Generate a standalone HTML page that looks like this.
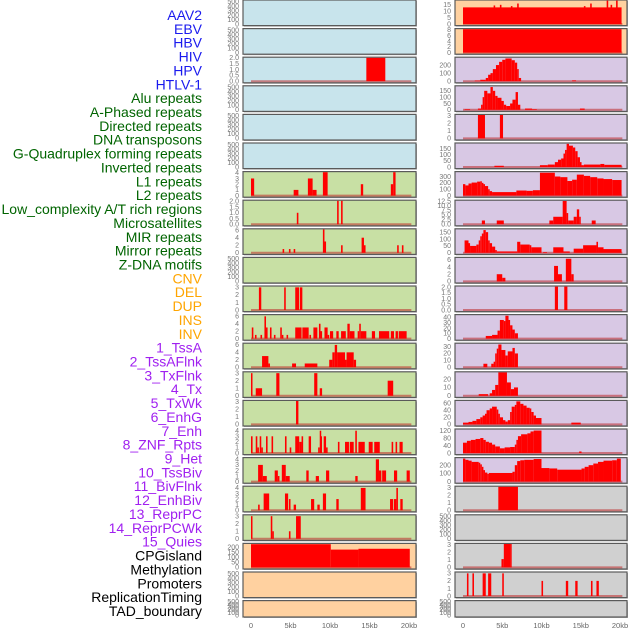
<!DOCTYPE html>
<html><head><meta charset="utf-8"><style>
html,body{margin:0;padding:0;background:#fff;}
svg{display:block;font-family:"Liberation Sans",sans-serif;}
</style></head><body>
<svg id="chart" width="630" height="630" viewBox="0 0 630 630" xmlns="http://www.w3.org/2000/svg"></svg>
<script>
const labels = ["AAV2","EBV","HBV","HIV","HPV","HTLV-1","Alu repeats","A-Phased repeats","Directed repeats","DNA transposons","G-Quadruplex forming repeats","Inverted repeats","L1 repeats","L2 repeats","Low_complexity A/T rich regions","Microsatellites","MIR repeats","Mirror repeats","Z-DNA motifs","CNV","DEL","DUP","INS","INV","1_TssA","2_TssAFlnk","3_TxFlnk","4_Tx","5_TxWk","6_EnhG","7_Enh","8_ZNF_Rpts","9_Het","10_TssBiv","11_BivFlnk","12_EnhBiv","13_ReprPC","14_ReprPCWk","15_Quies","CPGisland","Methylation","Promoters","ReplicationTiming","TAD_boundary"];
const labelColors = ["#1a1aee","#006400","#ffa500","#a020f0","#000000"];
const labelGroupSizes = [6,13,5,15,5];
const xTickLabels = ["0","5kb","10kb","15kb","20kb"];
const xTickValues = [0,5,10,15,20];

const T500=[0,100,200,300,400,500];
const leftTicks = [T500,T500,[0.0,0.5,1.0,1.5,2.0],T500,T500,T500,[0,1,2,3,4],[0.0,0.5,1.0,1.5,2.0],[0,2,4,6],T500,[0,1,2,3],[0,2,4,6],[0,2,4,6],[0,1,2,3],[0,1,2,3],[0,1,2,3,4],[0,1,2,3,4],[0,1,2,3,4],[0,1,2,3],[0,50,100,150,200],T500,T500];
const leftMax = [520,520,2.0,520,520,520,4.1,2.05,6.2,520,3.1,6.3,6.3,3.1,3.1,4.2,4.2,4.2,3.1,230,520,520];
const rightTicks = [[0,5,10,15],[0,2,4,6,8],[0,100,200],[0,50,100,150],[0,1,2,3],[0,50,100,150],[0,100,200,300],[0.0,2.5,5.0,7.5,10.0,12.5],[0,50,100,150],[0,2,4,6],[0.0,0.5,1.0,1.5,2.0],[0,10,20,30,40],[0,10,20,30],[0,10,20],[0,20,40,60],[0,40,80,120],[0,100,200],[0,1,2,3],T500,[0,1,2,3],[0,1,2,3],T500];
const rightMax = [18.3,8.2,290,185,3.1,192,368,12.6,170,6.5,2.05,44,34,28,66,125,285,3.1,520,3.1,3.1,520];
const leftBg = ["#c8e4ec","#c8e4ec","#c8e4ec","#c8e4ec","#c8e4ec","#c8e4ec","#c8e0a4","#c8e0a4","#c8e0a4","#c8e0a4","#c8e0a4","#c8e0a4","#c8e0a4","#c8e0a4","#c8e0a4","#c8e0a4","#c8e0a4","#c8e0a4","#c8e0a4","#ffd1a0","#ffd1a0","#ffd1a0"];
const rightBg = ["#ffd1a0","#ffd1a0","#d8c8e4","#d8c8e4","#d8c8e4","#d8c8e4","#d8c8e4","#d8c8e4","#d8c8e4","#d8c8e4","#d8c8e4","#d8c8e4","#d8c8e4","#d8c8e4","#d8c8e4","#d8c8e4","#d8c8e4","#d0d0d0","#d0d0d0","#d0d0d0","#d0d0d0","#d0d0d0"];

// series: [startKb, endKb, value]
const L2=[[14.6,17.0,2]];
const L6=[[0,0.4,3],[5.4,6.0,1],[7.2,7.8,3],[7.8,8.3,1],[9.1,9.7,4.1],[13.9,14.2,2],[17.7,18.0,2],[18.0,18.3,4.1]];
const L7=[[5.8,6.0,1],[10.9,11.1,2.05],[11.4,11.6,2.05]];
const L8=[[4.0,4.2,1],[4.8,5.0,1],[5.4,5.6,1],[9.1,9.3,6.2],[9.3,9.5,3],[11.4,11.6,2],[14.0,14.3,4],[14.3,14.5,2],[18.5,18.7,2],[19.1,19.3,2]];
const L10=[[1.0,1.3,3],[4.2,4.4,3],[5.6,6.1,3],[6.2,6.5,3]];
const L11=[[0.1,0.3,3],[0.5,0.7,1],[1.2,1.4,1],[1.7,1.9,6],[1.9,2.1,3],[2.4,2.6,3],[2.9,3.1,1],[3.7,3.9,3],[3.9,4.1,1],[4.5,4.7,1],[5.6,6.4,3],[6.5,7.3,3],[7.4,7.6,1],[7.9,8.4,3],[8.6,8.8,4],[8.8,9.0,2],[9.3,9.7,3],[9.7,9.9,1],[10.0,10.4,2],[10.8,11.1,2],[11.4,12.0,2],[12.2,12.5,4],[12.5,13.1,2],[13.5,13.7,2],[13.7,13.9,4],[13.9,14.6,2],[15.3,15.7,2],[16.2,17.5,2],[17.7,18.1,2],[18.3,18.6,2],[18.7,19.7,2]];
const L12=[[1.4,2.2,3],[2.2,2.4,1],[5.2,5.7,1],[6.8,8.4,1],[9.9,10.3,2],[10.3,10.6,4],[10.6,10.9,6],[10.9,11.9,4],[11.9,12.1,2],[12.1,13.0,4],[13.0,13.3,2]];
const L13=[[0,0.15,3],[0.6,1.4,1],[3.2,3.6,3],[8.0,8.4,3],[8.7,9.0,1],[17.3,18.0,2]];
const L14=[[5.7,6.0,3.1]];
const L15=[[0.0,0.2,3],[0.6,0.8,3],[0.8,1.0,1],[1.1,1.3,3],[1.3,1.5,1],[1.9,2.1,3],[2.6,2.8,3],[4.3,4.5,3],[4.9,5.1,1],[5.6,6.1,3],[6.1,6.4,2],[6.4,6.6,3],[7.3,7.6,3],[8.5,8.7,1],[8.7,8.8,4],[8.8,8.9,3],[9.2,9.5,3],[9.5,9.7,1],[11.0,11.2,2],[11.9,12.4,2],[12.5,13.0,2],[13.2,13.4,4],[13.6,14.4,2],[14.9,15.4,2],[15.6,16.3,2],[17.8,18.0,2],[18.3,18.5,2],[18.8,19.2,2]];
const L16=[[0.9,1.5,3],[1.5,2.0,1],[3.0,3.4,2],[3.4,3.6,1],[3.9,4.4,3],[4.4,4.9,1],[7.0,7.3,2],[8.2,8.6,1],[9.5,9.9,2],[13.2,13.5,1],[15.8,16.2,4],[16.2,16.5,2],[16.6,17.1,2],[18.1,18.5,2],[19.7,20.1,2]];
const L17=[[0.9,1.1,1],[1.6,2.3,3],[4.3,4.7,3],[4.8,5.0,2],[5.4,5.7,1],[7.6,8.0,2],[8.4,8.7,1],[9.1,9.5,3],[10.8,11.1,2],[13.9,14.5,4],[17.6,18.0,2],[18.1,18.4,2],[18.4,18.6,4],[18.9,19.2,2]];
const L18=[[0,0.15,3],[2.5,2.7,3],[2.7,2.8,1],[4.8,5.0,1],[5.7,6.3,3]];
const L19=[[0,10.1,228],[10.1,13.6,175],[13.6,20.1,183]];

const R0=[[0,20.2,13],[3.9,4.1,14.5],[4.7,4.9,15],[6.1,6.3,14],[6.9,7.1,16],[15.4,15.6,14],[16.2,16.4,16],[18.3,18.5,19],[18.8,19.0,15],[19.5,19.7,19]];
const R1=[[0,20.2,8.2]];
const R2=[[1.5,2.2,8],[2.2,2.9,18],[2.9,3.2,40],[3.2,3.5,80],[3.5,3.8,100],[3.8,4.2,150],[4.2,4.6,200],[4.6,5.0,240],[5.0,5.4,265],[5.4,6.2,282],[6.2,6.6,260],[6.6,6.9,230],[6.9,7.1,150],[7.1,7.4,40],[13.9,14.4,10]];
const R3=[[0.2,0.9,5],[1.9,2.3,10],[2.3,2.5,40],[2.5,2.7,100],[2.7,3.1,150],[3.1,3.5,130],[3.5,3.8,180],[3.8,4.1,150],[4.1,4.4,110],[4.4,4.9,95],[4.9,5.2,70],[5.2,5.5,40],[5.5,6.0,30],[6.0,6.3,50],[6.3,6.7,80],[6.7,7.0,140],[7.0,7.3,40],[7.9,8.8,10],[8.8,9.4,5],[14.9,15.5,10]];
const R4=[[1.9,2.8,3.1],[4.7,5.1,3.1]];
const R5=[[4.0,5.2,10],[9.8,10.8,15],[10.8,11.7,20],[11.7,12.1,40],[12.1,12.5,60],[12.5,12.8,70],[12.8,13.0,110],[13.0,13.2,140],[13.2,13.5,190],[13.5,14.0,175],[14.0,14.3,160],[14.3,14.6,130],[14.6,14.9,80],[14.9,15.1,40],[15.1,15.4,15],[15.4,17.5,20],[17.5,18.0,25],[18.0,20.2,18]];
const R6=[[0,0.3,180],[0.3,0.7,160],[0.7,1.1,190],[1.1,1.8,205],[1.8,2.2,220],[2.2,2.4,225],[2.4,2.6,200],[2.6,2.8,180],[2.8,3.2,150],[3.2,3.4,100],[3.4,3.7,70],[3.7,6.8,55],[6.8,8.1,80],[8.1,8.9,75],[8.9,9.8,85],[9.8,11.7,360],[11.7,12.4,300],[12.4,13.3,290],[13.3,13.9,230],[13.9,14.5,250],[14.5,15.4,330],[15.4,16.2,310],[16.2,17.1,290],[17.1,17.9,270],[17.9,19.0,260],[19.0,20.2,245]];
const R7=[[2.4,2.8,2],[4.3,5.2,2],[11.0,11.5,2],[11.5,12.7,4],[12.7,13.2,12.5],[13.2,13.4,6],[13.4,14.1,2],[14.1,14.5,4],[14.5,14.8,8],[14.8,15.0,4],[16.4,16.9,2]];
const R8=[[0.2,0.7,90],[0.7,0.9,70],[0.9,1.7,50],[1.7,2.0,60],[2.0,2.2,90],[2.2,2.4,120],[2.4,2.6,140],[2.6,2.9,165],[2.9,3.2,150],[3.2,3.4,90],[3.4,3.7,70],[3.7,4.1,45],[4.1,4.3,20],[4.3,6.9,10],[6.9,7.3,80],[7.3,8.5,60],[8.5,8.7,55],[8.7,10.0,40],[10.2,10.7,5],[11.5,12.8,40],[12.8,13.6,10],[14.1,15.3,30],[15.3,17.0,55],[17.0,17.2,80],[17.2,17.9,40],[17.9,20.2,27]];
const R9=[[4.3,5.0,2],[5.0,5.4,1],[11.6,12.1,4.3],[12.1,12.6,2],[13.1,13.8,6.3],[13.8,14.1,2]];
const R10=[[11.7,12.1,2.05],[12.9,13.3,2.05]];
const R11=[[2.9,3.7,5],[3.7,4.4,7],[4.4,4.7,15],[4.7,5.2,35],[5.2,5.4,33],[5.4,5.8,43],[5.8,6.0,35],[6.0,6.3,25],[6.3,6.6,17],[6.6,7.0,10]];
const R12=[[2.6,3.1,5],[3.6,3.9,5],[3.9,4.1,8],[4.1,4.3,20],[4.3,4.5,27],[4.5,4.9,33],[4.9,5.4,25],[5.4,5.7,17],[5.7,6.3,23],[6.3,6.6,28],[6.6,7.0,20]];
const R13=[[2.0,3.2,2],[3.4,3.7,3],[3.7,4.1,7],[4.1,4.5,13],[4.5,5.6,28],[5.6,6.1,16],[6.1,6.5,8],[6.5,7.0,10]];
const R14=[[0,0.7,5],[0.7,1.2,7],[1.2,1.7,10],[1.7,2.2,15],[2.2,2.5,20],[2.5,2.8,25],[2.8,3.0,30],[3.0,3.4,40],[3.4,3.7,45],[3.7,4.3,50],[4.3,4.5,42],[4.5,4.7,30],[4.7,5.1,20],[5.1,5.4,12],[5.4,5.7,8],[5.7,6.0,12],[6.0,6.2,35],[6.2,6.6,50],[6.6,6.8,55],[6.8,7.3,65],[7.3,7.7,58],[7.7,8.1,53],[8.1,8.5,47],[8.5,8.7,45],[8.7,9.0,35],[9.0,9.3,25],[9.3,10.0,18],[13.8,15.0,5]];
const R15=[[0,0.5,55],[0.5,1.0,65],[1.0,1.6,70],[1.6,2.2,75],[2.2,2.6,80],[2.6,2.9,70],[2.9,3.3,60],[3.3,3.7,55],[3.7,4.1,45],[4.1,4.7,35],[4.7,5.3,25],[5.3,6.0,30],[6.0,6.6,32],[6.6,6.8,45],[6.8,7.0,70],[7.0,7.4,90],[7.4,8.2,100],[8.2,8.6,105],[8.6,9.0,115],[9.0,10.0,120],[14.8,15.1,8]];
const R16=[[0,0.3,280],[0.3,0.7,265],[0.7,1.1,255],[1.1,2.0,240],[2.0,2.2,230],[2.2,2.4,210],[2.4,2.6,180],[2.6,2.8,140],[2.8,3.1,110],[3.1,3.3,95],[3.3,6.3,105],[6.3,6.6,120],[6.6,6.9,200],[6.9,7.3,250],[7.3,7.8,260],[7.8,9.0,265],[9.0,10.0,275],[10.0,11.0,165],[11.0,12.0,160],[12.0,15.1,145],[15.1,15.5,160],[15.5,16.0,180],[16.0,16.6,200],[16.6,17.2,220],[17.2,17.9,240],[17.9,19.0,255],[19.0,19.6,260],[19.6,20.1,280]];
const R17=[[4.5,7.0,3.1]];
const R19=[[4.9,5.2,1.1],[5.2,6.0,3.1],[6.0,6.2,3.1]];
const R20=[[0.5,0.7,3],[1.2,1.4,3],[2.5,2.9,3],[3.2,3.6,3],[5.0,5.2,3],[10.0,10.2,2],[13.1,13.4,2],[14.3,14.6,2],[16.3,16.5,2],[17.0,17.3,2]];

const leftSeries=[[],[],L2,[],[],[],L6,L7,L8,[],L10,L11,L12,L13,L14,L15,L16,L17,L18,L19,[],[]];
const rightSeries=[R0,R1,R2,R3,R4,R5,R6,R7,R8,R9,R10,R11,R12,R13,R14,R15,R16,R17,[],R19,R20,[]];

const NS="http://www.w3.org/2000/svg";
const svg=document.getElementById('chart');
function mk(tag,attrs,parent){const e=document.createElementNS(NS,tag);for(const k in attrs)e.setAttribute(k,attrs[k]);(parent||svg).appendChild(e);return e;}

// labels
let li=0;
labelGroupSizes.forEach((n,g)=>{for(let j=0;j<n;j++){const t=mk('text',{x:202,y:(20+li*13.86).toFixed(1),'text-anchor':'end','font-size':'14',fill:labelColors[g]});


t.textContent=labels[li];li++;}});

const PITCH=28.6, PH=25.6;
const cols=[{x:243,w:173,x0:251,k:7.9,tickX:239,ticks:leftTicks,max:leftMax,bg:leftBg,series:leftSeries,name:'left'},
            {x:455,w:172,x0:463,k:7.85,tickX:451,ticks:rightTicks,max:rightMax,bg:rightBg,series:rightSeries,name:'right'}];
cols.forEach(c=>{
  const xs=kb=>c.x0+kb*c.k;
  for(let i=0;i<22;i++){
    const top=i*PITCH; const h=(i===21)?16.4:PH;
    const y0=top+h-1.6, yT=top+0.6;
    const ys=v=>y0-(v/c.max[i])*(y0-yT);
    const g=mk('g',{});
    
    
    mk('rect',{x:c.x+1,y:top+1,width:c.w,height:h,fill:'#b0b0b0'},g);
    const bg=mk('rect',{x:c.x,y:top,width:c.w,height:h,fill:c.bg[i],stroke:'#5a5a5a','stroke-width':1.2},g);
    
    
    const s=c.series[i];
    if(s.length){
      const bl=mk('line',{x1:xs(0),x2:xs(20.3),y1:y0,y2:y0,stroke:'rgba(190,40,40,0.55)','stroke-width':2},g);
      
      
    }
    s.forEach(d=>{
      const v=Math.min(d[2],c.max[i]);
      const r=mk('rect',{x:xs(d[0]).toFixed(2),y:ys(v).toFixed(2),width:Math.max(1.5,xs(d[1])-xs(d[0])).toFixed(2),height:(y0-ys(v)).toFixed(2),fill:'#ff0000'},g);
      
      
    });
    c.ticks[i].forEach(tv=>{
      const t=mk('text',{x:c.tickX,y:(ys(tv)+2.3).toFixed(2),'text-anchor':'end','font-size':'7',fill:'#777'},g);
      
      
      t.textContent=(c.ticks[i].some(x=>x%1!==0))?tv.toFixed(1):String(tv);
    });
  }
  xTickValues.forEach((v,j)=>{
    const t=mk('text',{x:xs(v).toFixed(1),y:628,'text-anchor':'middle','font-size':'7.5',fill:'#666'});
    
    
    t.textContent=xTickLabels[j];
  });
});
</script>
</body></html>
